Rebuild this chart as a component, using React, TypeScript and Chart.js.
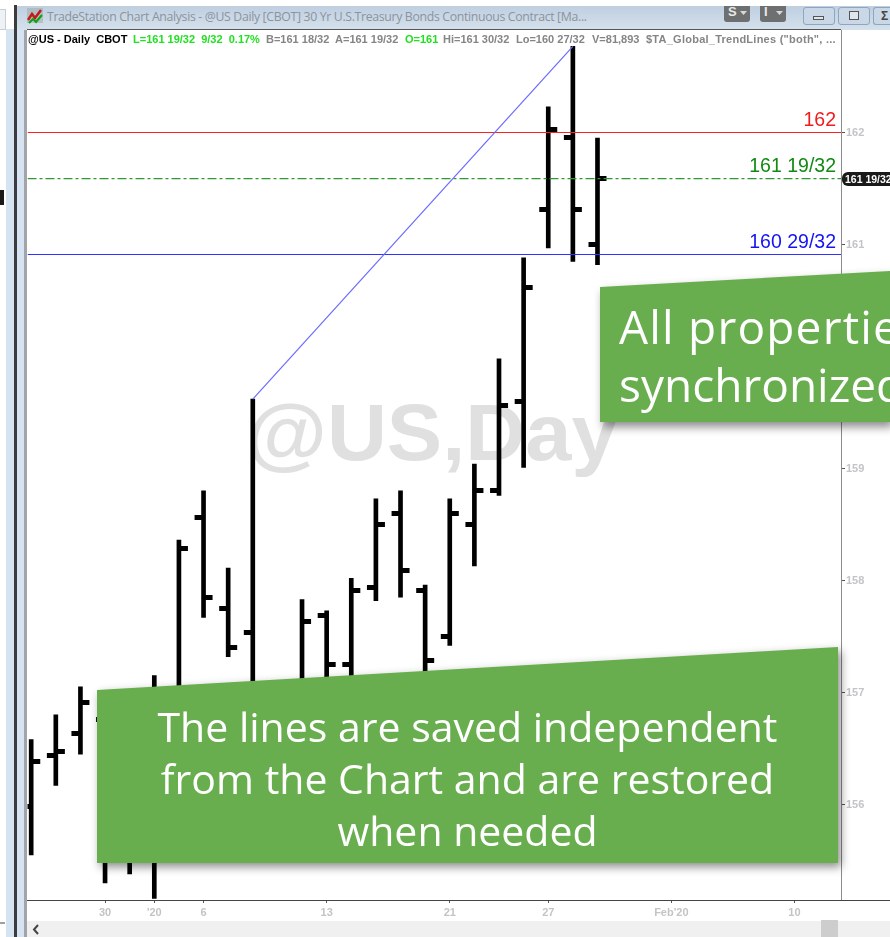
import React, { useEffect, useRef } from "react";
import { Chart, registerables } from "chart.js";

Chart.register(...registerables);

const barIndex = [0, 1, 2, 3, 4, 5, 6, 7, 8, 9, 10, 11, 12, 13, 14, 15, 16, 17, 18, 19, 20, 21, 22, 23];
const opens = [155.98, 156.44, 156.63, 156.76, 155.77, 156.04, 156.75, 158.56, 157.75, 157.54, 156.75, 157.02, 157.69, 157.25, 157.94, 158.6, 157.91, 157.5, 158.5, 158.8, 159.6, 161.31, 161.96, 161.0];
const highs = [156.58, 156.8, 157.05, 156.93, 156.39, 157.15, 158.36, 158.8, 158.11, 159.62, 156.93, 157.83, 157.73, 158.02, 158.73, 158.8, 157.96, 158.73, 159.04, 159.98, 160.88, 162.23, 162.77, 161.95];
const lows = [155.55, 156.17, 156.45, 155.3, 155.38, 155.16, 156.39, 157.67, 157.32, 156.75, 156.21, 156.84, 156.93, 157.02, 157.82, 157.85, 157.02, 157.42, 158.13, 158.76, 159.01, 160.97, 160.85, 160.82];
const closes = [156.38, 156.47, 156.91, 156.21, 156.04, 156.75, 158.29, 157.85, 157.4, 156.93, 156.39, 157.63, 157.25, 157.91, 158.5, 158.09, 157.29, 158.6, 158.8, 159.56, 160.62, 162.03, 161.31, 161.59];

const xTickIndex = [3, 5, 7, 12, 17, 21, 26, 31];
const xTickLabels = ["30", "'20", "6", "13", "21", "27", "Feb'20", "10"];
const yTicks = [156, 157, 158, 159, 160, 161, 162];

const redLevel = 162;
const greenLevel = 161.589;
const blueLevel = 160.911;
const levelLabels = ["162", "161 19/32", "160 29/32"];
const trendFrom = [9, 159.62];
const trendTo = [22, 162.77];

const X_MIN = -0.15;
const X_MAX = 32.89;
const Y_MIN = 155.147;
const Y_MAX = 162.911;

function tickImage(side: "left" | "right") {
  const c = document.createElement("canvas");
  c.width = 20;
  c.height = 5;
  const g = c.getContext("2d")!;
  g.fillStyle = "#000";
  if (side === "left") g.fillRect(1, 0, 9, 5);
  else g.fillRect(10, 0, 9, 5);
  return c;
}

const levelLabelPlugin = {
  id: "levelLabels",
  afterDatasetsDraw(chart: any) {
    const { ctx, scales, chartArea } = chart;
    const items: [string, number, string][] = [
      [levelLabels[0], redLevel, "#f01c1c"],
      [levelLabels[1], greenLevel, "#128a12"],
      [levelLabels[2], blueLevel, "#1414f5"],
    ];
    ctx.save();
    ctx.font = "19.5px 'Liberation Sans'";
    ctx.textAlign = "right";
    ctx.textBaseline = "alphabetic";
    for (const [t, v, col] of items) {
      ctx.fillStyle = col;
      ctx.fillText(t, chartArea.right - 5, scales.y.getPixelForValue(v) - 6.5);
    }
    ctx.restore();
  },
};

function T(p: { x: number; y: number; c: string; s: string; size?: number; w?: number; ls?: number }) {
  return (
    <div
      style={{
        position: "absolute",
        left: p.x,
        top: p.y,
        color: p.c,
        whiteSpace: "pre",
        letterSpacing: p.ls ?? 0,
        font: `${p.w ?? 700} ${p.size ?? 11}px/14px 'Liberation Sans'`,
      }}
    >
      {p.s}
    </div>
  );
}

function Box(p: { l: number; t: number; w: number; h: number; bg: string; extra?: any; children?: any }) {
  return (
    <div style={{ position: "absolute", left: p.l, top: p.t, width: p.w, height: p.h, background: p.bg, ...p.extra }}>
      {p.children}
    </div>
  );
}

const greenText: React.CSSProperties = {
  position: "absolute",
  color: "#fff",
  fontFamily: "'Open Sans'",
  whiteSpace: "pre",
};

function greenTextAt(left: number, top: number, spacing: number): React.CSSProperties {
  return { ...greenText, left, top, fontSize: 46, lineHeight: "56px", letterSpacing: spacing };
}

function Caret(p: { x: number }) {
  return (
    <svg style={{ position: "absolute", left: p.x, top: 11 }} width={7} height={5}>
      <polygon points="0,0 7,0 3.5,4" fill="#d8d8d8" />
    </svg>
  );
}

export default function App() {
  const ref = useRef<HTMLCanvasElement>(null);

  useEffect(() => {
    const chart = new Chart(ref.current!, {
      type: "bar",
      data: {
        datasets: [
          {
            type: "line",
            data: [{ x: trendFrom[0], y: trendFrom[1] }, { x: trendTo[0], y: trendTo[1] }],
            borderColor: "#6a6aff",
            borderWidth: 1.2,
            pointRadius: 0,
            order: 0,
          },
          {
            type: "line",
            data: [{ x: X_MIN, y: redLevel }, { x: X_MAX, y: redLevel }],
            borderColor: "#ff2020",
            borderWidth: 1.2,
            pointRadius: 0,
            order: 0,
          },
          {
            type: "line",
            data: [{ x: X_MIN, y: greenLevel }, { x: X_MAX, y: greenLevel }],
            borderColor: "#2f9a2f",
            borderWidth: 1.2,
            borderDash: [9, 3, 3, 3],
            pointRadius: 0,
            order: 0,
          },
          {
            type: "line",
            data: [{ x: X_MIN, y: blueLevel }, { x: X_MAX, y: blueLevel }],
            borderColor: "#3030ff",
            borderWidth: 1.2,
            pointRadius: 0,
            order: 0,
          },
          {
            type: "line",
            data: barIndex.map((x, i) => ({ x, y: opens[i] })),
            showLine: false,
            pointStyle: tickImage("left"),
            pointRadius: 4,
            order: 1,
          },
          {
            type: "line",
            data: barIndex.map((x, i) => ({ x, y: closes[i] })),
            showLine: false,
            pointStyle: tickImage("right"),
            pointRadius: 4,
            order: 1,
          },
          {
            type: "bar",
            data: barIndex.map((x, i) => ({ x, y: [lows[i], highs[i]] })),
            backgroundColor: "#000",
            barThickness: 4,
            grouped: false,
            order: 2,
          },
        ] as any,
      },
      options: {
        animation: false,
        responsive: false,
        layout: { padding: { left: 27.5, top: 30.5, right: 0, bottom: 0 } },
        plugins: { legend: { display: false }, tooltip: { enabled: false } },
        events: [],
        scales: {
          x: {
            type: "linear",
            min: X_MIN,
            max: X_MAX,
            offset: false,
            afterBuildTicks: (s: any) => {
              s.ticks = xTickIndex.map((value) => ({ value }));
            },
            afterFit: (s: any) => {
              s.height = 37;
            },
            border: { display: false },
            grid: { offset: false, drawOnChartArea: false, color: "#555", tickLength: 3 },
            ticks: {
              autoSkip: false,
              maxRotation: 0,
              padding: 3,
              color: "#c4c4c8",
              font: { family: "'Liberation Sans'", size: 11, weight: "bold" },
              callback: (v: any) => xTickLabels[xTickIndex.indexOf(Number(v))] ?? "",
            },
          },
          y: {
            type: "linear",
            position: "right",
            min: Y_MIN,
            max: Y_MAX,
            afterBuildTicks: (s: any) => {
              s.ticks = yTicks.map((value) => ({ value }));
            },
            afterFit: (s: any) => {
              s.width = 49;
            },
            border: { display: false },
            grid: { drawOnChartArea: false, color: "#555", tickLength: 4 },
            ticks: {
              padding: 1,
              color: "#c4c4c8",
              font: { family: "'Liberation Sans'", size: 11, weight: "bold" },
              callback: (v: any) => String(v),
            },
          },
        },
      } as any,
      plugins: [levelLabelPlugin],
    });
    return () => chart.destroy();
  }, []);

  return (
    <div style={{ position: "fixed", left: 0, top: 0, width: 890, height: 937, overflow: "hidden", background: "#fff" }}>
      {/* window frame */}
      <Box l={0} t={9} w={5} h={19} bg="#eef1f5" extra={{ border: "1px solid #c9ccd0", borderLeft: "none" }} />
      <Box l={0} t={190} w={4} h={15} bg="#1a1a1a" />
      <Box l={0} t={922} w={5} h={2} bg="#a0a0a0" />
      <Box l={6} t={29} w={8} h={908} bg="#d5e3f2" />
      <Box l={14} t={5} w={3} h={932} bg="#3c3c3e" />
      <Box l={17} t={6} w={873} h={24} bg="linear-gradient(#bfcfe0,#d5e1ec)" />
      <Box l={17} t={30} w={7} h={907} bg="#d5e3f2" />
      <Box l={24} t={30} w={3} h={907} bg="#a2a4a8" />
      <Box l={27} t={29} w={814} h={1} bg="#555" />

      {/* title bar */}
      <svg style={{ position: "absolute", left: 26, top: 7 }} width={18} height={17}>
        <rect x={1} y={1} width={16} height={15} fill="#9aa8a0" opacity={0.5} />
        <polyline points="2,13 6,7 9,11 15,3" fill="none" stroke="#c41a1a" strokeWidth={2.5} />
        <polyline points="3,16 7,12 10,15 16,8" fill="none" stroke="#12a012" strokeWidth={2} />
      </svg>
      <div
        style={{
          position: "absolute",
          left: 47,
          top: 9,
          color: "#8b939c",
          whiteSpace: "pre",
          letterSpacing: -0.34,
          font: "400 12.3px/16px 'Open Sans'",
        }}
      >
        TradeStation Chart Analysis - @US Daily [CBOT] 30 Yr U.S.Treasury Bonds Continuous Contract [Ma...
      </div>
      <Box l={724} t={6} w={26} h={16} bg="#6d6f70" extra={{ borderRadius: "0 0 3px 3px" }} />
      <Box l={760} t={6} w={26} h={16} bg="#6d6f70" extra={{ borderRadius: "0 0 3px 3px" }} />
      <T x={728} y={5} c="#e8e8e8" s="S" size={13} />
      <T x={764} y={5} c="#e8e8e8" s="I" size={13} />
      <Caret x={740} />
      <Caret x={776} />
      <Box l={803} t={7} w={32} h={18} bg="#c9d7e6" extra={{ border: "1px solid #8ea6c0", borderRadius: 3, boxSizing: "border-box" }} />
      <Box l={838} t={7} w={32} h={18} bg="#c9d7e6" extra={{ border: "1px solid #8ea6c0", borderRadius: 3, boxSizing: "border-box" }} />
      <Box l={873} t={7} w={17} h={18} bg="#c9d7e6" extra={{ border: "1px solid #8ea6c0", borderRight: "none", borderRadius: "3px 0 0 3px", boxSizing: "border-box" }} />
      <Box l={813} t={16} w={11} h={4} bg="#dfe6ee" extra={{ border: "1px solid #555", boxSizing: "border-box" }} />
      <Box l={849} t={11} w={10} h={9} bg="#dfe6ee" extra={{ border: "1px solid #555", boxSizing: "border-box" }} />
      <T x={881} y={9} c="#444" s="Σ" size={12} />

      {/* watermark behind the bars */}
      <div
        style={{
          position: "absolute",
          left: 246,
          top: 391,
          color: "#e0e0e0",
          whiteSpace: "pre",
          transform: "scaleY(0.95)",
          transformOrigin: "top left",
          font: "700 83px/90px 'Liberation Sans'",
        }}
      >
        @US,Day
      </div>

      <canvas ref={ref} width={890} height={937} style={{ position: "absolute", left: 0, top: 0, width: 890, height: 937 }} />

      {/* chart frame drawn over the canvas */}
      <Box l={841} t={30} w={1} h={870} bg="#8c8c8c" />
      <Box l={27} t={900} w={863} h={1} bg="#444" />

      {/* status line */}
      <T x={28} y={32} c="#000" s="@US - Daily  CBOT" />
      <T x={133} y={32} c="#22e022" s="L=161 19/32  9/32  0.17%" />
      <T x={266} y={32} c="#858585" s="B=161 18/32  A=161 19/32" />
      <T x={405} y={32} c="#22e022" s="O=161" />
      <T x={443} y={32} c="#858585" s="Hi=161 30/32" />
      <T x={516} y={32} c="#858585" s="Lo=160 27/32" />
      <T x={592} y={32} c="#858585" s="V=81,893" />
      <T x={646} y={32} c="#858585" ls={0.25} s={'$TA_Global_TrendLines ("both", ...'} />

      {/* last price marker */}
      <div
        style={{
          position: "absolute",
          left: 842,
          top: 172,
          width: 60,
          height: 14,
          background: "#1a1a1a",
          borderRadius: "6px 0 0 6px",
          color: "#fff",
          paddingLeft: 3,
          boxSizing: "border-box",
          whiteSpace: "pre",
          font: "700 10.5px/14px 'Liberation Sans'",
        }}
      >
        161 19/32
      </div>

      {/* scrollbar */}
      <Box l={27} t={921} w={863} h={16} bg="#f0f0f0" />
      <Box l={821} t={920} w={17} h={17} bg="#cdcdcd" />
      <svg style={{ position: "absolute", left: 31, top: 924 }} width={10} height={11}>
        <polyline points="7,1 3,5.5 7,10" fill="none" stroke="#444" strokeWidth={2} />
      </svg>

      {/* callouts */}
      <div style={{ position: "absolute", left: 0, top: 0, width: 890, height: 937, filter: "drop-shadow(3px 5px 5px rgba(0,0,0,0.45))" }}>
        <div style={{ position: "absolute", left: 0, top: 0, width: 890, height: 937, background: "#69ae4e", clipPath: "polygon(600px 287px, 890px 271px, 890px 422px, 600px 422px)" }} />
      </div>
      <div style={greenTextAt(619, 298, 1.2)}>All properties</div>
      <div style={greenTextAt(619, 356, 0)}>synchronized</div>

      <div style={{ position: "absolute", left: 0, top: 0, width: 890, height: 937, filter: "drop-shadow(3px 4px 5px rgba(0,0,0,0.45))" }}>
        <div style={{ position: "absolute", left: 0, top: 0, width: 890, height: 937, background: "#69ae4e", clipPath: "polygon(97px 690px, 838px 647px, 838px 863px, 97px 863px)" }} />
      </div>
      <div style={{ ...greenText, left: 97, width: 741, top: 700, textAlign: "center", fontSize: 41, lineHeight: "52px" }}>
        {"The lines are saved independent\nfrom the Chart and are restored\nwhen needed"}
      </div>
    </div>
  );
}
